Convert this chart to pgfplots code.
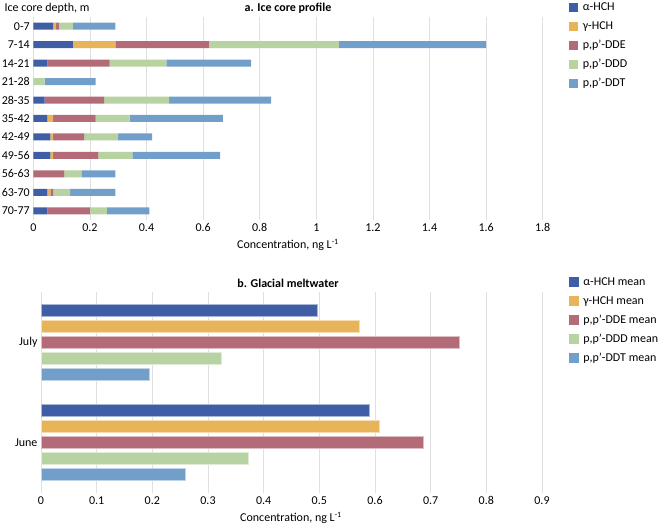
\documentclass[border=0pt]{standalone}
\usepackage{fontspec}
\setmainfont{Carlito}
\usepackage{pgfplots}
\pgfplotsset{compat=1.18}
\definecolor{ca}{RGB}{63,94,166}
\definecolor{cg}{RGB}{232,180,90}
\definecolor{cde}{RGB}{179,107,120}
\definecolor{cdd}{RGB}{183,211,161}
\definecolor{cdt}{RGB}{114,159,202}
\begin{document}
\begin{tikzpicture}[x=1pt,y=1pt]
\path[use as bounding box] (0,0) rectangle (661,527);
\pgfplotsset{
  common/.style={
    scale only axis,
    axis line style={draw=none},
    major tick length=0pt,
    xmajorgrids,
    grid style={black!12, line width=0.6pt},
    tick label style={font=\fontsize{12}{14}\selectfont},
    /pgf/number format/assume math mode=true,
    legend cell align=left,
    legend style={draw=none, fill=none, anchor=north west,
      font=\fontsize{12}{14}\selectfont,
      nodes={inner sep=0pt, text height=8pt, text depth=2pt},
      row sep=9pt,
      /tikz/every odd column/.style={column sep=5pt}},
  }
}
\begin{axis}[common,
  at={(33.3pt,307pt)}, anchor=south west,
  width=509.4pt, height=203pt,
  xbar stacked, bar width=7pt,
  xmin=0, xmax=1.8, ymin=-0.5, ymax=10.5, y dir=reverse,
  xtick={0,0.2,0.4,0.6,0.8,1,1.2,1.4,1.6,1.8},
  ytick={0,1,2,3,4,5,6,7,8,9,10},
  yticklabels={0-7,7-14,14-21,21-28,28-35,35-42,42-49,49-56,56-63,63-70,70-77},
  legend style={at={(1.045,1.08)}},
]
\addplot[fill=ca, draw=none, legend image code/.code={\fill[ca] (0pt,-4.5pt) rectangle (9pt,4.5pt);}] coordinates {(0.07,0) (0.14,1) (0.05,2) (0,3) (0.04,4) (0.05,5) (0.06,6) (0.06,7) (0,8) (0.05,9) (0.05,10)};
\addplot[fill=cg, draw=none, legend image code/.code={\fill[cg] (0pt,-4.5pt) rectangle (9pt,4.5pt);}] coordinates {(0.01,0) (0.15,1) (0,2) (0,3) (0,4) (0.02,5) (0.01,6) (0.01,7) (0,8) (0.01,9) (0,10)};
\addplot[fill=cde, draw=none, legend image code/.code={\fill[cde] (0pt,-4.5pt) rectangle (9pt,4.5pt);}] coordinates {(0.01,0) (0.33,1) (0.22,2) (0,3) (0.21,4) (0.15,5) (0.11,6) (0.16,7) (0.11,8) (0.01,9) (0.15,10)};
\addplot[fill=cdd, draw=none, legend image code/.code={\fill[cdd] (0pt,-4.5pt) rectangle (9pt,4.5pt);}] coordinates {(0.05,0) (0.46,1) (0.20,2) (0.04,3) (0.23,4) (0.12,5) (0.12,6) (0.12,7) (0.06,8) (0.06,9) (0.06,10)};
\addplot[fill=cdt, draw=none, legend image code/.code={\fill[cdt] (0pt,-4.5pt) rectangle (9pt,4.5pt);}] coordinates {(0.15,0) (0.52,1) (0.30,2) (0.18,3) (0.36,4) (0.33,5) (0.12,6) (0.31,7) (0.12,8) (0.16,9) (0.15,10)};
\legend{α-HCH,γ-HCH,{p,p'-DDE},{p,p'-DDD},{p,p'-DDT}}
\end{axis}
\begin{axis}[common,
  at={(41pt,34pt)}, anchor=south west,
  width=501pt, height=201pt,
  xbar, bar width=12pt,
  xmin=0, xmax=0.9, ymin=-0.5, ymax=1.5,
  xtick={0,0.1,0.2,0.3,0.4,0.5,0.6,0.7,0.8,0.9},
  ytick={0,1}, yticklabels={June,July},
  legend style={at={(1.047,1.085)}},
]
\addplot[fill=ca, draw=ca!45!white, line width=0.6pt, bar shift=32pt, legend image code/.code={\fill[ca] (0pt,-4.5pt) rectangle (9pt,4.5pt);}] coordinates {(0.589,0) (0.497,1)};
\addplot[fill=cg, draw=cg!45!white, line width=0.6pt, bar shift=16pt, legend image code/.code={\fill[cg] (0pt,-4.5pt) rectangle (9pt,4.5pt);}] coordinates {(0.607,0) (0.571,1)};
\addplot[fill=cde, draw=cde!45!white, line width=0.6pt, bar shift=0pt, legend image code/.code={\fill[cde] (0pt,-4.5pt) rectangle (9pt,4.5pt);}] coordinates {(0.686,0) (0.752,1)};
\addplot[fill=cdd, draw=cdd!45!white, line width=0.6pt, bar shift=-16pt, legend image code/.code={\fill[cdd] (0pt,-4.5pt) rectangle (9pt,4.5pt);}] coordinates {(0.373,0) (0.323,1)};
\addplot[fill=cdt, draw=cdt!45!white, line width=0.6pt, bar shift=-32pt, legend image code/.code={\fill[cdt] (0pt,-4.5pt) rectangle (9pt,4.5pt);}] coordinates {(0.260,0) (0.194,1)};
\legend{α-HCH mean,γ-HCH mean,{p,p'-DDE mean},{p,p'-DDD mean},{p,p'-DDT mean}}
\end{axis}
\node[anchor=west, font=\fontsize{12}{14}\selectfont] at (1,519) {Ice core depth, m};
\node[font=\bfseries\fontsize{12}{14}\selectfont] at (288,519) {a. Ice core profile};
\node[font=\fontsize{12}{14}\selectfont] at (288,282) {Concentration, ng L\textsuperscript{-1}};
\node[font=\bfseries\fontsize{12}{14}\selectfont] at (288,244) {b. Glacial meltwater};
\node[font=\fontsize{12}{14}\selectfont] at (291,9) {Concentration, ng L\textsuperscript{-1}};
\end{tikzpicture}
\end{document}
